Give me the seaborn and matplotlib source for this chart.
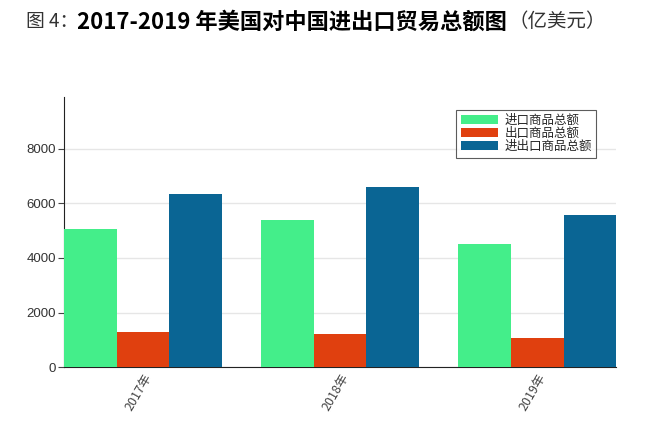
import matplotlib
matplotlib.use("Agg")
import matplotlib.pyplot as plt
import seaborn as sns
import pandas as pd

years = ["2017年", "2018年", "2019年"]
series = ["进口商品总额", "出口商品总额", "进出口商品总额"]
imports = [5056, 5395, 4522]
exports = [1303, 1203, 1066]
totals = [6359, 6598, 5588]
colors = ["#44EE8A", "#E0400F", "#0A6594"]

rows = []
for i, y in enumerate(years):
    rows.append((y, series[0], imports[i]))
    rows.append((y, series[1], exports[i]))
    rows.append((y, series[2], totals[i]))
df = pd.DataFrame(rows, columns=["year", "series", "value"])

sns.set_style("white")
plt.rcParams["font.family"] = ["Noto Sans CJK SC", "DejaVu Sans"]

fig = plt.figure(figsize=(6.5, 4.21), dpi=100)
ax = fig.add_axes([0.0985, 0.128, 0.8495, 0.642])
sns.barplot(data=df, x="year", y="value", hue="series", hue_order=series,
            palette=colors, width=0.8, gap=0, saturation=1, ax=ax, zorder=3,
            linewidth=0, edgecolor="none")

ax.set_xlim(-0.4, 2.4)
ax.set_ylim(0, 9900)
ax.set_yticks([0, 2000, 4000, 6000, 8000])
ax.yaxis.grid(True, color="#e6e6e6", linewidth=1, zorder=0)
ax.set_axisbelow(True)
for s in ["top", "right"]:
    ax.spines[s].set_visible(False)
ax.spines["left"].set_color("#222222")
ax.spines["bottom"].set_color("#222222")
ax.tick_params(axis="y", length=4, color="#444444", labelsize=9.5, labelcolor="#333333", pad=2, left=True)
ax.tick_params(axis="x", length=0, labelsize=9, labelcolor="#444444", pad=3)
for lab in ax.get_yticklabels():
    lab.set_family(["Liberation Sans", "DejaVu Sans"])
for lab in ax.get_xticklabels():
    lab.set_rotation(60)
    lab.set_ha("right")
    lab.set_rotation_mode("anchor")
ax.set_xlabel("")
ax.set_ylabel("")

leg = ax.legend(loc="upper right", bbox_to_anchor=(0.975, 0.975), fontsize=9,
                frameon=True, fancybox=False, edgecolor="#333333",
                handlelength=3.0, handleheight=0.75, labelspacing=0.0,
                borderpad=0.35, handletextpad=0.5)
leg.get_frame().set_linewidth(0.8)

fam = ["Noto Sans CJK SC", "DejaVu Sans"]
fig.canvas.draw()
renderer = fig.canvas.get_renderer()
ty = 0.948
t1 = fig.text(26 / 650, ty, "图 4：", fontsize=13.5, color="#333333", va="center", ha="left", family=fam)
t2 = fig.text(77 / 650, ty, "2017-2019 年美国对中国进出口贸易总额图", fontsize=16,
              fontweight="bold", color="#000000", va="center", ha="left", family=fam)
x2 = t2.get_window_extent(renderer).x1 / fig.bbox.width
t3 = fig.text(x2 + 2 / 650, ty, "（亿美元）", fontsize=14, color="#333333", va="center", ha="left", family=fam)

fig.savefig("out.png", dpi=100)
